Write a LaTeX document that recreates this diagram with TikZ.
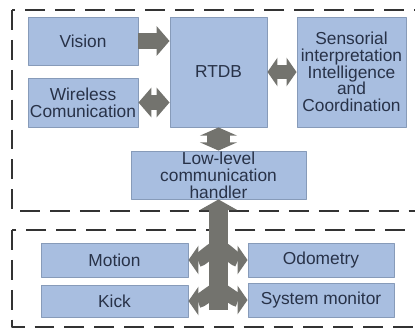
\documentclass[tikz,border=0pt]{standalone}
\usepackage{fontspec}
\setmainfont{Liberation Sans}
\usetikzlibrary{arrows.meta}
\definecolor{boxblue}{RGB}{168,190,224}
\definecolor{boxline}{RGB}{135,155,185}
\definecolor{flowgray}{RGB}{115,115,110}
\definecolor{txt}{RGB}{40,50,72}
\tikzset{
  module/.style={draw=boxline, line width=0.8pt, fill=boxblue, text=txt, align=center, inner sep=0pt,
    font=\fontsize{14.8}{14.4}\selectfont},
  frame/.style={draw=black!80, line width=1.7pt, dash pattern=on 17pt off 8.5pt},
  flow/.style={draw=flowgray, line width=#1},
  tipA/.tip={Triangle[width=24.8pt, length=11pt]},
  tipB/.tip={Triangle[width=31.6pt, length=7pt]},
  tipC/.tip={Triangle[width=24pt, length=8.5pt]}
}
\begin{document}
\begin{tikzpicture}[x=0.03cm, y=-0.03cm, line join=round]
  \useasboundingbox (0,0) rectangle (415,328);
  \clip (0,0) rectangle (415,328);
  % frames
  \draw[frame] (12,10) rectangle (440,211);
  \draw[frame] (12,230) rectangle (440,327);
  % upper modules
  \node[module, minimum width=3.3cm, minimum height=1.44cm] (vision) at (83,41) {Vision};
  \node[module, minimum width=3.3cm, minimum height=1.47cm] (wireless) at (83,102.5) {Wireless\\Comunication};
  \node[module, minimum width=2.91cm, minimum height=3.3cm] (rtdb) at (218.5,72) {RTDB};
  \node[module, minimum width=3.27cm, minimum height=3.3cm, font=\fontsize{14.8}{14.2}\selectfont] (sensor) at (351.5,72)
    {Sensorial\\interpretation\\Intelligence\\and\\Coordination};
  \node[module, minimum width=5.25cm, minimum height=1.44cm] (lowlevel) at (218.5,175) {Low-level\\communication\\handler};
  % lower modules
  \node[module, minimum width=4.41cm, minimum height=1.02cm] (motion) at (114.5,260) {Motion};
  \node[module, minimum width=4.41cm, minimum height=0.96cm] (kick) at (114.5,301) {Kick};
  \node[module, minimum width=4.38cm, minimum height=1.02cm] (odometry) at (321,260) {Odometry};
  \node[module, minimum width=4.38cm, minimum height=1.02cm] (sysmon) at (321,300) {System monitor};
  % flows
  \draw[flow=14.5pt, -tipA] (vision.east) -- (vision.east -| rtdb.west);
  \draw[flow=12pt, tipA-tipA] (wireless.east) -- (wireless.east -| rtdb.west);
  \draw[flow=12.5pt, tipC-tipC] (rtdb.east) -- (sensor.west);
  \draw[flow=19.6pt, tipB-tipB] (rtdb.south) -- (lowlevel.north);
  \coordinate (hubtop) at (218.5,246);
  \coordinate (hubbot) at (218.5,288);
  \coordinate (stem) at (218.5,310);
  \draw[flow=17pt, -{Triangle[width=31.6pt, length=9pt]}] (stem) -- (lowlevel.south);
  \draw[flow=12pt, -tipC] (hubtop) to[out=210, in=0] (motion.east);
  \draw[flow=12pt, -tipC] (hubtop) to[out=-30, in=180] (odometry.west);
  \draw[flow=12pt, -tipC] (hubbot) to[out=210, in=0] (kick.east);
  \draw[flow=12pt, -tipC] (hubbot) to[out=-30, in=180] (sysmon.west);
\end{tikzpicture}
\end{document}
